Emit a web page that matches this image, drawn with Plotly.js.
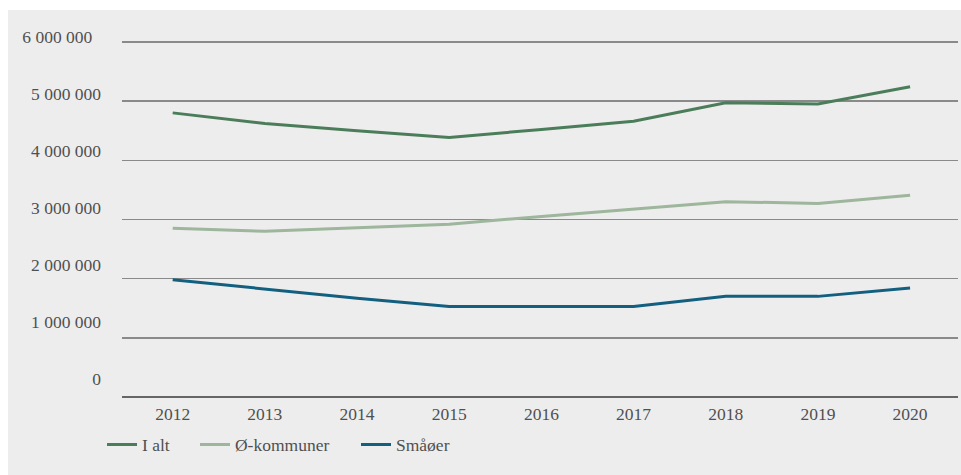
<!DOCTYPE html>
<html>
<head>
<meta charset="utf-8">
<script src="https://cdn.plot.ly/plotly-3.0.1.min.js"></script>
<style>
html,body{margin:0;padding:0;background:#ffffff;}
#chart{position:absolute;left:8px;top:10px;width:953px;height:465px;background:#ededed;}
</style>
</head>
<body>
<div id="chart"></div>
<script>
const years = ['2012','2013','2014','2015','2016','2017','2018','2019','2020'];
const iAlt = [4800000, 4620000, 4500000, 4385000, 4520000, 4660000, 4970000, 4950000, 5240000];
const oKommuner = [2850000, 2800000, 2860000, 2920000, 3050000, 3170000, 3300000, 3270000, 3410000];
const smaoer = [1980000, 1820000, 1670000, 1530000, 1530000, 1530000, 1700000, 1700000, 1840000];
const yTicks = [0, 1000000, 2000000, 3000000, 4000000, 5000000, 6000000];
const yTickLabels = ['0', '1 000 000', '2 000 000', '3 000 000', '4 000 000', '5 000 000', '6 000 000\u00a0\u00a0'];

const font = {family: 'Liberation Serif, Times New Roman, serif', size: 17.5, color: '#505050'};

const traces = [
  {x: years, y: iAlt, name: 'I alt', type: 'scatter', mode: 'lines', line: {color: '#4b7d5a', width: 3}, legend: 'legend'},
  {x: years, y: oKommuner, name: 'Ø-kommuner', type: 'scatter', mode: 'lines', line: {color: '#9db69c', width: 3}, legend: 'legend2'},
  {x: years, y: smaoer, name: 'Småøer', type: 'scatter', mode: 'lines', line: {color: '#135f7f', width: 3}, legend: 'legend3'},
  // invisible trace carrying the tick labels on an overlaid axis
  {x: years, y: smaoer, type: 'scatter', mode: 'lines', yaxis: 'y2', showlegend: false, hoverinfo: 'skip', line: {width: 0, color: 'rgba(0,0,0,0)'}}
];

const legBase = {orientation: 'h', xanchor: 'left', y: -0.13, yanchor: 'middle', font: font, bgcolor: 'rgba(0,0,0,0)', itemwidth: 30};

const layout = {
  width: 953, height: 465,
  margin: {l: 114, r: 3, t: 20, b: 78},
  paper_bgcolor: 'rgba(0,0,0,0)',
  plot_bgcolor: 'rgba(0,0,0,0)',
  font: font,
  showlegend: true,
  legend: Object.assign({}, legBase, {x: -0.0239}),
  legend2: Object.assign({}, legBase, {x: 0.0873}),
  legend3: Object.assign({}, legBase, {x: 0.2799}),
  xaxis: {type: 'category', range: [-0.55, 8.52], showgrid: false, zeroline: false,
          showline: false, ticks: '', tickfont: font, ticklabelstandoff: 4, fixedrange: true},
  yaxis: {range: [0, 6200000], tickvals: yTicks, showticklabels: false, showgrid: true,
          gridcolor: '#8a8a8a', gridwidth: 1.4, zeroline: true, zerolinecolor: '#666666', zerolinewidth: 1.4,
          showline: false, ticks: '', fixedrange: true},
  yaxis2: {overlaying: 'y', side: 'left', range: [-310500, 6128000], tickvals: yTicks, ticktext: yTickLabels,
           showgrid: false, zeroline: false, showline: false, ticks: '', tickfont: font,
           ticklabelstandoff: 20, fixedrange: true},
  separators: ', '
};

Plotly.newPlot('chart', traces, layout, {displayModeBar: false, staticPlot: true});
</script>
</body>
</html>
